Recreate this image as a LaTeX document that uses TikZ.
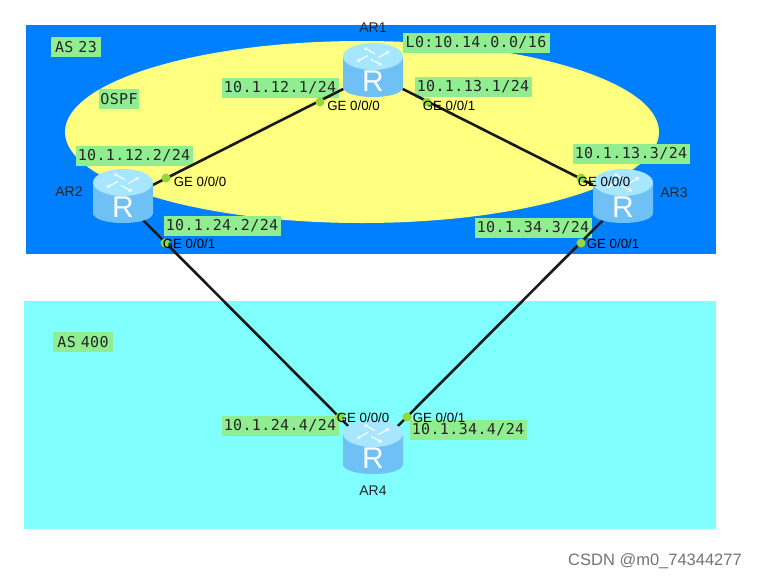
\documentclass[tikz,border=0pt]{standalone}
\usepackage{fontspec}
\setmainfont{Liberation Sans}
\newfontfamily\ipfont[LetterSpace=2.5]{DejaVu Sans Mono}
\usetikzlibrary{arrows.meta, positioning}
\definecolor{asblue}{HTML}{0080FF}
\definecolor{ascyan}{HTML}{80FFFF}
\definecolor{ospfyellow}{HTML}{FFFF80}
\definecolor{ipgreen}{HTML}{90EE90}
\definecolor{portgreen}{HTML}{92D83A}
\definecolor{bodyedge}{HTML}{6FC0F4}
\definecolor{bodymid}{HTML}{B8E8FF}
\definecolor{bodytop}{HTML}{A6E6FF}
\begin{document}
\begin{tikzpicture}[
      x=1pt, y=-1pt,
      on grid,
      routerbox/.style={circle, minimum size=66pt, inner sep=0pt},
      namebox/.style={font=\fontsize{14}{14}\selectfont, text=black!85, inner sep=0pt},
      ipbox/.style={fill=ipgreen, font=\fontsize{15}{15}\selectfont\ipfont, text=black!85, inner sep=0pt, minimum height=20.5pt, text width=#1, align=center},
      ipbox/.default=117pt,
      portdot/.style={circle, fill=portgreen, minimum size=9pt, inner sep=0pt},
      portbox/.style={font=\fontsize{13.3}{14}\selectfont, text=black, inner sep=0pt},
      link/.style={line width=2.6pt, black!90},
      router/.pic={
        \path[left color=bodyedge, middle color=bodymid, right color=bodyedge, draw=none]
          (-30,-13) -- (-30,17) .. controls (-30,23) and (-17,27) .. (0,27)
          .. controls (17,27) and (30,23) .. (30,17) -- (30,-13) -- cycle;
        \fill[bodytop] (0,-13.5) ellipse [x radius=30, y radius=13.5];
        \foreach \a in {45,135,225,315}
          \draw[white, line width=1.1pt, -{Stealth[length=3.5pt,width=4pt]}, shift={(0,-13.5)}, yscale=0.55, rotate=\a] (2.5,5) -- (18,5);
        \node[white, font=\fontsize{30}{30}\selectfont, inner sep=0pt] at (0,11) {R};
      }
    ]
      \useasboundingbox (0,0) rectangle (758,579);

      % Areas
      \fill[asblue] (26,25) rectangle (716,254);
      \fill[ascyan] (24,301) rectangle (716,529);
      \fill[ospfyellow] (362,132) ellipse [x radius=297, y radius=91];

      % Routers
      \node (ar1) [routerbox] at (373,74) {};
      \node (ar2) [routerbox, below left=126pt and 250pt of ar1] {};
      \node (ar3) [routerbox, below right=126pt and 250pt of ar1] {};
      \node (ar4) [routerbox, below=377pt of ar1] {};

      % Area labels
      \node (as23) [ipbox=50pt] at (76,47) {AS 23};
      \node (ospf) [ipbox=40pt] at (119,99) {OSPF};
      \node (as400) [ipbox=60pt] at (83,342) {AS 400};

      % Address labels
      \node (ipLoop) [ipbox=147pt, above right=31pt and 103pt of ar1] {L0:10.14.0.0/16};
      \node (ip12a) [ipbox, below left=14pt and 93pt of ar1] {10.1.12.1/24};
      \node (ip13a) [ipbox, below right=13pt and 100pt of ar1] {10.1.13.1/24};
      \node (ip12b) [ipbox, above right=44pt and 11pt of ar2] {10.1.12.2/24};
      \node (ip24b) [ipbox, below right=26pt and 99pt of ar2] {10.1.24.2/24};
      \node (ip13c) [ipbox, above right=46pt and 8pt of ar3] {10.1.13.3/24};
      \node (ip34c) [ipbox, below left=28pt and 90pt of ar3] {10.1.34.3/24};
      \node (ip24d) [ipbox, above left=25pt and 93pt of ar4] {10.1.24.4/24};
      \node (ip34d) [ipbox, above right=21pt and 95pt of ar4] {10.1.34.4/24};

      % Connectors
      \draw[link] (ar1) -- (ar2);
      \draw[link] (ar1) -- (ar3);
      \draw[link, shorten <=-7pt] (ar2) -- (ar4);
      \draw[link, shorten <=-7pt] (ar3) -- (ar4);

      % Router bodies
      \foreach \r in {ar1,ar2,ar3,ar4}
        \pic[yshift=4pt] at (\r) {router};

      % Router names
      \node (name1) [namebox, above=46pt of ar1] {AR1};
      \node (name2) [namebox, above left=8pt and 54pt of ar2] {AR2};
      \node (name3) [namebox, above right=7pt and 51pt of ar3] {AR3};
      \node (name4) [namebox, below=40pt of ar4] {AR4};

      % Port dots
      \node (dot1a) [portdot, below left=28pt and 53pt of ar1] {};
      \node (dot1b) [portdot, below right=28pt and 54pt of ar1] {};
      \node (dot2a) [portdot, above right=22pt and 43pt of ar2] {};
      \node (dot2b) [portdot, below right=43pt and 42pt of ar2] {};
      \node (dot3a) [portdot, above left=22pt and 42pt of ar3] {};
      \node (dot3b) [portdot, below left=43pt and 42pt of ar3] {};
      \node (dot4a) [portdot, above left=34pt and 33pt of ar4] {};
      \node (dot4b) [portdot, above right=34pt and 34pt of ar4] {};

      % Port names
      \node (port1a) [portbox, below right=4pt and 33.5pt of dot1a] {GE 0/0/0};
      \node (port1b) [portbox, below right=4pt and 22pt of dot1b] {GE 0/0/1};
      \node (port2a) [portbox, below right=4pt and 34pt of dot2a] {GE 0/0/0};
      \node (port2b) [portbox, below right=1pt and 24pt of dot2b] {GE 0/0/1};
      \node (port3a) [portbox, below right=4pt and 23pt of dot3a] {GE 0/0/0};
      \node (port3b) [portbox, below right=1pt and 32pt of dot3b] {GE 0/0/1};
      \node (port4a) [portbox, below right=1pt and 23pt of dot4a] {GE 0/0/0};
      \node (port4b) [portbox, below right=1pt and 32pt of dot4b] {GE 0/0/1};

      % Watermark
      \node (mark) [font=\fontsize{16.5}{16.5}\selectfont, text=black!55, inner sep=0pt] at (655,561) {CSDN @m0\_74344277};
    \end{tikzpicture}
\end{document}
